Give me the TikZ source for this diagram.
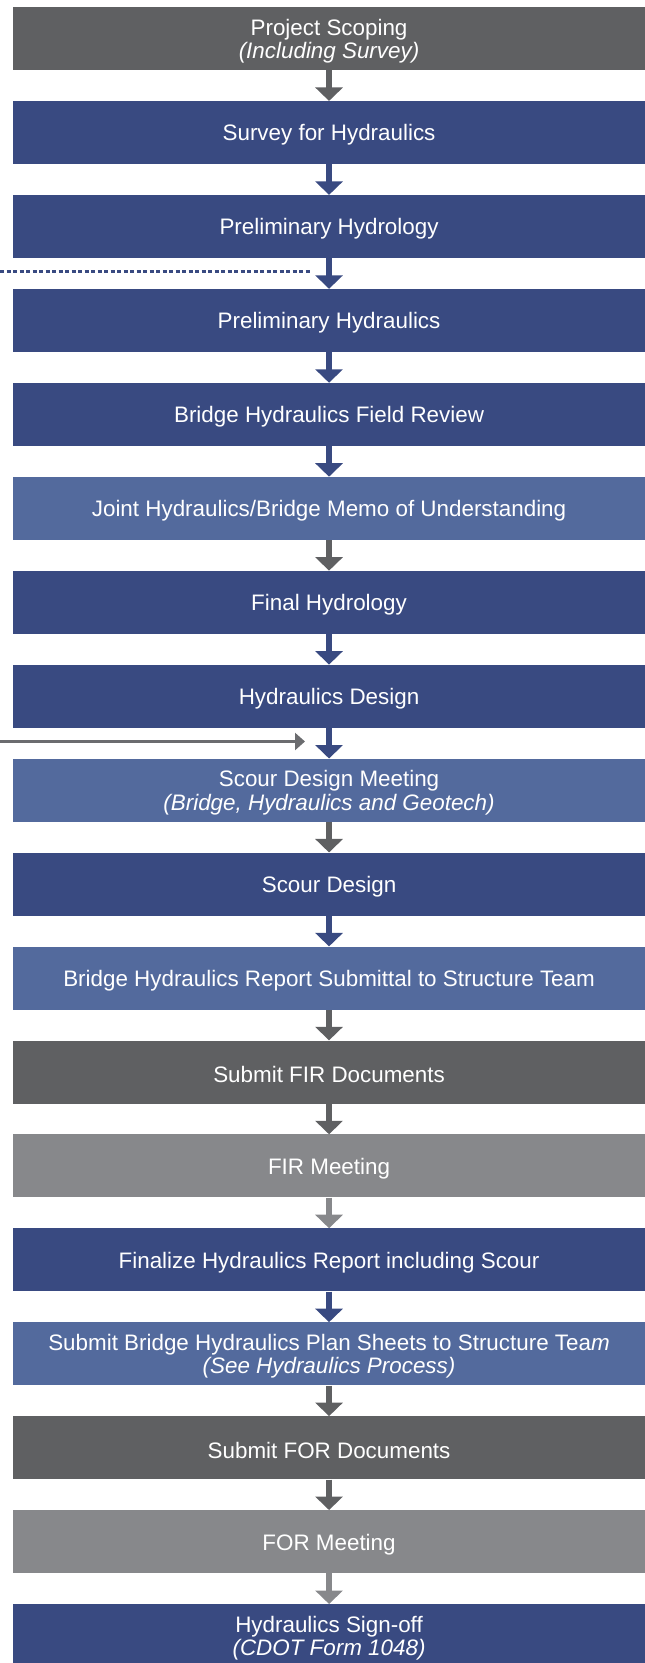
\documentclass[tikz,border=0pt]{standalone}
\usepackage{fontspec}
\setmainfont{Liberation Sans}
\usetikzlibrary{arrows.meta}
\definecolor{dkblue}{HTML}{394A81}
\definecolor{ltblue}{HTML}{536A9D}
\definecolor{dkgray}{HTML}{5F6062}
\definecolor{ltgray}{HTML}{87888B}
\definecolor{lnkgray}{HTML}{6B6C6F}
\begin{document}
\begin{tikzpicture}[x=1pt,y=-1pt,
  box/.style={fill=#1, minimum width=632.3pt, minimum height=63pt, inner sep=0pt,
    anchor=north west},
  txt/.style={text=white, align=center, inner sep=0pt, yshift=-2.5pt,
    font=\fontsize{22.4pt}{23.5pt}\selectfont},
  arr/.style={draw=#1, line width=6pt, -{Triangle[length=13.5pt,width=27pt,fill=#1,color=#1]}}
]
\useasboundingbox (0,0) rectangle (645,1663);
\node[box=dkgray, label={[txt]center:{Project Scoping\\\textit{(Including Survey)}}}] (b1)  at (12.7,7.00) {};
\node[box=dkblue, label={[txt]center:{Survey for Hydraulics}}] (b2)  at (12.7,100.94) {};
\node[box=dkblue, label={[txt]center:{Preliminary Hydrology}}] (b3)  at (12.7,194.88) {};
\node[box=dkblue, label={[txt]center:{Preliminary Hydraulics}}] (b4)  at (12.7,288.82) {};
\node[box=dkblue, label={[txt]center:{Bridge Hydraulics Field Review}}] (b5)  at (12.7,382.76) {};
\node[box=ltblue, label={[txt]center:{Joint Hydraulics/Bridge Memo of Understanding}}] (b6)  at (12.7,476.70) {};
\node[box=dkblue, label={[txt]center:{Final Hydrology}}] (b7)  at (12.7,570.64) {};
\node[box=dkblue, label={[txt]center:{Hydraulics Design}}] (b8)  at (12.7,664.58) {};
\node[box=ltblue, label={[txt]center:{Scour Design Meeting\\\textit{(Bridge, Hydraulics and Geotech)}}}] (b9)  at (12.7,758.52) {};
\node[box=dkblue, label={[txt]center:{Scour Design}}] (b10) at (12.7,852.46) {};
\node[box=ltblue, label={[txt]center:{Bridge Hydraulics Report Submittal to Structure Team}}] (b11) at (12.7,946.40) {};
\node[box=dkgray, label={[txt]center:{Submit FIR Documents}}] (b12) at (12.7,1040.34) {};
\node[box=ltgray, label={[txt]center:{FIR Meeting}}] (b13) at (12.7,1134.28) {};
\node[box=dkblue, label={[txt]center:{Finalize Hydraulics Report including Scour}}] (b14) at (12.7,1228.22) {};
\node[box=ltblue, label={[txt]center:{Submit Bridge Hydraulics Plan Sheets to Structure Tea\textit{m}\\\textit{(See Hydraulics Process)}}}] (b15) at (12.7,1322.16) {};
\node[box=dkgray, label={[txt]center:{Submit FOR Documents}}] (b16) at (12.7,1416.10) {};
\node[box=ltgray, label={[txt]center:{FOR Meeting}}] (b17) at (12.7,1510.04) {};
\node[box=dkblue, label={[txt]center:{Hydraulics Sign-off\\\textit{(CDOT Form 1048)}}}] (b18) at (12.7,1603.98) {};

\draw[arr=dkgray] (b1.south) -- (b2.north);
\draw[arr=dkblue] (b2.south) -- (b3.north);
\draw[arr=dkblue] (b3.south) -- (b4.north);
\draw[arr=dkblue] (b4.south) -- (b5.north);
\draw[arr=dkblue] (b5.south) -- (b6.north);
\draw[arr=dkgray] (b6.south) -- (b7.north);
\draw[arr=dkblue] (b7.south) -- (b8.north);
\draw[arr=dkblue] (b8.south) -- (b9.north);
\draw[arr=dkgray] (b9.south) -- (b10.north);
\draw[arr=dkblue] (b10.south) -- (b11.north);
\draw[arr=dkgray] (b11.south) -- (b12.north);
\draw[arr=dkgray] (b12.south) -- (b13.north);
\draw[arr=ltgray] (b13.south) -- (b14.north);
\draw[arr=dkblue] (b14.south) -- (b15.north);
\draw[arr=dkgray] (b15.south) -- (b16.north);
\draw[arr=dkgray] (b16.south) -- (b17.north);
\draw[arr=ltgray] (b17.south) -- (b18.north);

\coordinate (d0) at (0,271.8);
\coordinate (d1) at (310,271.8);
\draw[dkblue, line width=3.3pt, dash pattern=on 4pt off 2.5pt] (d0) -- (d1);

\coordinate (g0) at (0,741.5);
\coordinate (g1) at (305,741.5);
\draw[lnkgray, line width=2.5pt, -{Triangle[length=10pt,width=17pt]}] (g0) -- (g1);
\end{tikzpicture}
\end{document}
